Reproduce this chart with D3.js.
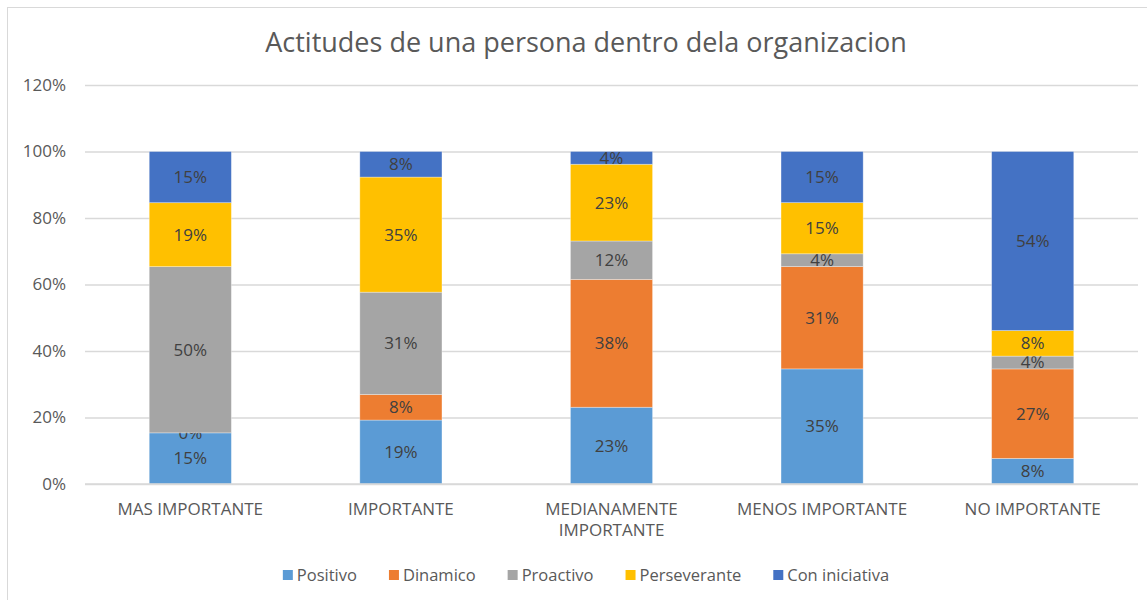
<!DOCTYPE html>
<html>
<head>
<meta charset="utf-8">
<script src="https://cdn.jsdelivr.net/npm/d3@7"></script>
<style>
  body { margin: 0; background: #fff; }
  text { font-family: "Open Sans", "Noto Sans", sans-serif; }
</style>
</head>
<body>
<div id="chart"></div>
<script>
// data
const categories = ['MAS IMPORTANTE', 'IMPORTANTE', 'MEDIANAMENTE IMPORTANTE', 'MENOS IMPORTANTE', 'NO IMPORTANTE']
const seriesNames = ['Positivo', 'Dinamico', 'Proactivo', 'Perseverante', 'Con iniciativa']
const positivo = [15.38, 19.23, 23.08, 34.62, 7.69]
const dinamico = [0, 7.69, 38.46, 30.77, 26.92]
const proactivo = [50.0, 30.77, 11.54, 3.85, 3.85]
const perseverante = [19.23, 34.62, 23.08, 15.38, 7.69]
const conIniciativa = [15.38, 7.69, 3.85, 15.38, 53.85]
const yTicks = [0, 20, 40, 60, 80, 100, 120]
const colors = ['#5B9BD5', '#ED7D31', '#A5A5A5', '#FFC000', '#4472C4']

const width = 1147
const height = 600
const margin = { top: 85, right: 9, bottom: 116, left: 85 }

const table = categories.map((c, i) => ({
    cat: c,
    'Positivo': positivo[i],
    'Dinamico': dinamico[i],
    'Proactivo': proactivo[i],
    'Perseverante': perseverante[i],
    'Con iniciativa': conIniciativa[i]
}))

const svg = d3.select('#chart')
    .append('svg')
    .attr('width', width)
    .attr('height', height)

// outer border
svg.append('rect')
    .attr('x', 7.5).attr('y', 7.5)
    .attr('width', width).attr('height', height)
    .attr('fill', 'none')
    .attr('stroke', '#d9d9d9')

svg.append('text')
    .attr('x', 586).attr('y', 52)
    .attr('text-anchor', 'middle')
    .attr('font-size', 27)
    .attr('fill', '#595959')
    .text('Actitudes de una persona dentro dela organizacion')

const x = d3.scaleBand()
    .domain(categories)
    .range([margin.left, width - margin.right])
    .paddingInner(0.61)
    .paddingOuter(0.305)

const y = d3.scaleLinear()
    .domain([0, 120])
    .range([height - margin.bottom, margin.top])

const color = d3.scaleOrdinal().domain(seriesNames).range(colors)

// gridlines + y labels
const yAxis = d3.axisLeft(y)
    .tickValues(yTicks)
    .tickSize(-(width - margin.right - margin.left))
    .tickPadding(19)
    .tickFormat((d) => d + '%')
const gy = svg.append('g')
    .attr('transform', `translate(${margin.left},0)`)
    .call(yAxis)
gy.select('.domain').remove()
gy.selectAll('.tick line').attr('stroke', '#d9d9d9').attr('stroke-width', 1.3)
gy.selectAll('.tick text').attr('fill', '#595959').attr('font-size', 17)

// bars
const stack = d3.stack().keys(seriesNames)(table)

const layers = svg.append('g')
    .selectAll('g')
    .data(stack)
    .enter()
    .append('g')
    .attr('fill', (d) => color(d.key))

layers.selectAll('rect')
    .data((d) => d)
    .enter()
    .append('rect')
    .attr('x', (d) => x(d.data.cat))
    .attr('width', x.bandwidth())
    .attr('y', (d) => y(d[1]))
    .attr('height', (d) => y(d[0]) - y(d[1]))
    .attr('stroke', '#ffffff')
    .attr('stroke-opacity', 0.4)
    .attr('stroke-width', 0.8)

// data labels
const fmt = d3.format('.0f')
layers.selectAll('text')
    .data((d) => d)
    .enter()
    .append('text')
    .attr('x', (d) => x(d.data.cat) + x.bandwidth() / 2)
    .attr('y', (d) => (y(d[0]) + y(d[1])) / 2)
    .attr('dy', '0.35em')
    .attr('text-anchor', 'middle')
    .attr('font-size', 17)
    .attr('fill', '#404040')
    .text((d) => fmt(d[1] - d[0]) + '%')

// x axis labels
const base = height - margin.bottom
svg.append('line')
    .attr('x1', margin.left).attr('x2', width - margin.right)
    .attr('y1', base).attr('y2', base)
    .attr('stroke', '#d9d9d9').attr('stroke-width', 1.3)

const xl = svg.append('g')
    .selectAll('text')
    .data(categories)
    .enter()
    .append('text')
    .attr('text-anchor', 'middle')
    .attr('font-size', 17)
    .attr('fill', '#595959')
    .attr('x', (d) => x(d) + x.bandwidth() / 2)
    .attr('y', base + 31)

xl.each(function (d) {
    const t = d3.select(this)
    t.text(d)
    if (this.getComputedTextLength() > 195) {
        const words = d.split(' ')
        t.text(null)
        words.forEach((w, i) => {
            t.append('tspan')
                .attr('x', t.attr('x'))
                .attr('dy', i === 0 ? 0 : 21)
                .text(w)
        })
    }
})

// legend
const legend = svg.append('g')
let lx = 0
const items = legend.selectAll('g')
    .data(seriesNames)
    .enter()
    .append('g')
items.append('rect')
    .attr('width', 10).attr('height', 10)
    .attr('y', -5)
    .attr('fill', (d) => color(d))
items.append('text')
    .attr('x', 14)
    .attr('dy', '0.35em')
    .attr('font-size', 16.5)
    .attr('fill', '#595959')
    .text((d) => d)
items.each(function () {
    const w = d3.select(this).select('text').node().getComputedTextLength() + 14
    d3.select(this).attr('transform', `translate(${lx},0)`)
    lx += w + 32
})
lx -= 32
legend.attr('transform', `translate(${586 - lx / 2},575)`)
</script>
</body>
</html>
